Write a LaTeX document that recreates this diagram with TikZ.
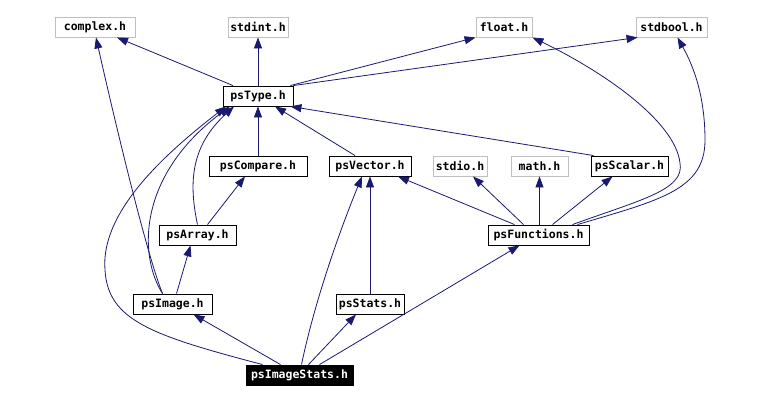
\documentclass[tikz,border=0pt]{standalone}
\usepackage{fontspec}
\newfontfamily\gvfont{DejaVu Sans Mono}
\usetikzlibrary{arrows.meta,calc}
\definecolor{edgeblue}{HTML}{191970}
\definecolor{extgray}{HTML}{BFBFBF}
\tikzset{
  hdr/.style={draw=black, line width=0.9pt, fill=white, inner sep=0pt, minimum height=20pt,
    font=\gvfont\bfseries\fontsize{11.5}{12}\selectfont},
  ext/.style={hdr, draw=extgray},
  root/.style={hdr, draw=black, fill=black, text=white},
  dep/.style={draw=edgeblue, line width=0.8pt, -{Triangle[length=11pt,width=8pt]}}
}
\begin{document}
\begin{tikzpicture}[x=1pt,y=-1pt]
\useasboundingbox (0,0) rectangle (772,401);
% nodes
\node[ext, minimum width=80pt] (complex) at (95,27) {complex.h};
\node[ext, minimum width=60pt] (stdint) at (258,27) {stdint.h};
\node[ext, minimum width=56pt] (float) at (504,27) {float.h};
\node[ext, minimum width=71pt] (stdbool) at (671.5,27) {stdbool.h};
\node[hdr, minimum width=70pt] (psType) at (258,96) {psType.h};
\node[hdr, minimum width=98pt] (psCompare) at (258,166) {psCompare.h};
\node[hdr, minimum width=82pt] (psVector) at (370,166) {psVector.h};
\node[ext, minimum width=54pt] (stdio) at (460,166) {stdio.h};
\node[ext, minimum width=57pt] (math) at (539.5,166) {math.h};
\node[hdr, minimum width=77pt] (psScalar) at (629.5,166) {psScalar.h};
\node[hdr, minimum width=77pt] (psArray) at (197.5,235) {psArray.h};
\node[hdr, minimum width=101pt] (psFunctions) at (538.5,235) {psFunctions.h};
\node[hdr, minimum width=79pt] (psImage) at (172.5,304) {psImage.h};
\node[hdr, minimum width=68pt] (psStats) at (370,304) {psStats.h};
\node[root, minimum width=107pt] (psImageStats) at (299.5,375) {psImageStats.h};
% psType deps
\draw[dep] ($(psType.north)+(-25,0)$) -- ($(complex.south)+(22,0)$);
\draw[dep] (psType.north) -- (stdint.south);
\draw[dep] ($(psType.north east)+(-3,0)$) -- (float.south west);
\draw[dep] (psType.north east) -- ($(stdbool.south west)+(2,0)$);
% to psType
\draw[dep] (psCompare.north) -- (psType.south);
\draw[dep] ($(psVector.north)+(-15,0)$) -- ($(psType.south)+(17,0)$);
\draw[dep] ($(psScalar.north west)+(3,0)$) -- ($(psType.south east)+(-3,0)$);
\draw[dep] (psArray.north) .. controls (188,180) and (192,145) .. ($(psType.south)+(-24,0)$);
\draw[dep] ($(psImage.north)+(-10,0)$) .. controls (138,255) and (138,175) .. ($(psType.south)+(-28,0)$);
\draw[dep] ($(psImageStats.north)+(-37,0)$) .. controls (150,335) and (108,320) .. (105,270)
   .. controls (100,210) and (170,150) .. ($(psType.south)+(-32,0)$);
% psArray
\draw[dep] ($(psArray.north)+(10,0)$) -- ($(psCompare.south)+(-13,0)$);
% psImage
\draw[dep] ($(psImage.north)+(-10,0)$) .. controls (145,250) and (110,100) .. ($(complex.south)+(1,0)$);
\draw[dep] ($(psImage.north)+(4,0)$) -- ($(psArray.south)+(-7,0)$);
% psImageStats
\draw[dep] ($(psImageStats.north)+(-19,0)$) -- ($(psImage.south)+(21,0)$);
\draw[dep] ($(psImageStats.north)+(2,0)$) .. controls (315,300) and (340,230) .. ($(psVector.south)+(-8,0)$);
\draw[dep] ($(psImageStats.north)+(9,0)$) -- ($(psStats.south)+(-14,0)$);
\draw[dep] ($(psImageStats.north)+(20,0)$) -- ($(psFunctions.south)+(-19,0)$);
% psStats
\draw[dep] (psStats.north) -- (psVector.south);
% psFunctions
\draw[dep] ($(psFunctions.north)+(-24,0)$) -- ($(psVector.south)+(28,0)$);
\draw[dep] ($(psFunctions.north)+(-15,0)$) -- ($(stdio.south)+(13,0)$);
\draw[dep] (psFunctions.north -| math.south) -- (math.south);
\draw[dep] ($(psFunctions.north)+(14,0)$) -- ($(psScalar.south)+(-17,0)$);
\draw[dep] ($(psFunctions.north)+(34,0)$) .. controls (640,200) and (685,190) .. (680,163)
   .. controls (675,120) and (600,70) .. (float.south east);
\draw[dep] ($(psFunctions.north)+(39,0)$) .. controls (660,200) and (705,190) .. (705,140)
   .. controls (705,90) and (690,60) .. ($(stdbool.south)+(6,0)$);
\end{tikzpicture}
\end{document}
